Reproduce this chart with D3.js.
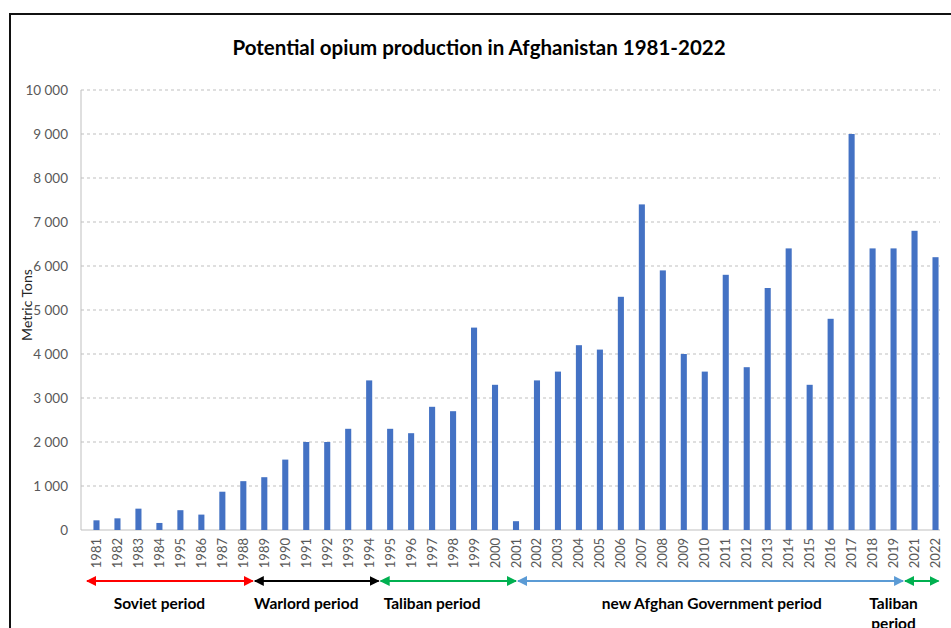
<html>
<head>
    <style>
        body { margin: 0; background: #fff; }
        text { font-family: Lato, "Liberation Sans", sans-serif; }
    </style>
</head>
<body>
    <script src="https://d3js.org/d3.v7.min.js"></script>
    <script>
        var width = 951,
            height = 628;

        // years as printed on the axis (1985 is printed "1995", 2020 is missing)
        var years = ["1981", "1982", "1983", "1984", "1995 ", "1986", "1987", "1988",
            "1989", "1990", "1991", "1992", "1993", "1994", "1995", "1996", "1997",
            "1998", "1999", "2000", "2001", "2002", "2003", "2004", "2005", "2006",
            "2007", "2008", "2009", "2010", "2011", "2012", "2013", "2014", "2015",
            "2016", "2017", "2018", "2019", "2021", "2022"];

        var tons = [220, 265, 485, 160, 450, 350, 870, 1110,
            1200, 1600, 2000, 2000, 2300, 3400, 2300, 2200, 2800,
            2700, 4600, 3300, 200, 3400, 3600, 4200, 4100, 5300,
            7400, 5900, 4000, 3600, 5800, 3700, 5500, 6400, 3300,
            4800, 9000, 6400, 6400, 6800, 6200];

        var yTicks = [0, 1000, 2000, 3000, 4000, 5000, 6000, 7000, 8000, 9000, 10000];

        var periodNames = ["Soviet period", "Warlord period", "Taliban period", "new Afghan Government period", "Taliban"];
        var periodFrom = ["1981", "1989", "1995", "2001", "2021"];
        var periodTo = ["1988", "1994", "2001", "2019", "2022"];
        var periodColors = ["#ff0000", "#000000", "#00b050", "#5b9bd5", "#00b050"];
        var periodLabelAt = ["1984", "1991", "1997", "2010", "2019"];

        var svg = d3.select("body")
            .append("svg")
            .attr("width", width)
            .attr("height", height);

        // frame of the screenshot
        svg.append("path")
            .attr("d", "M10," + height + "V14H" + width)
            .attr("fill", "none")
            .attr("stroke", "#111")
            .attr("stroke-width", 2);

        var x = d3.scaleBand()
            .domain(years)
            .range([86, 946])
            .paddingInner(0.71)
            .paddingOuter(0.355);

        var y = d3.scaleLinear()
            .domain([0, 10000])
            .range([530, 90]);

        var fmt = function (d) { return d3.format(",")(d).replace(/,/g, " "); };

        // grid
        svg.append("g")
            .selectAll("line")
            .data(yTicks.slice(1))
            .enter()
            .append("line")
            .attr("x1", 81)
            .attr("x2", 940)
            .attr("y1", d => y(d))
            .attr("y2", d => y(d))
            .attr("stroke", "#bfbfbf")
            .attr("stroke-dasharray", "3,3");

        // y labels
        svg.append("g")
            .selectAll("text")
            .data(yTicks)
            .enter()
            .append("text")
            .attr("x", 68)
            .attr("y", d => y(d))
            .attr("dy", "0.35em")
            .attr("text-anchor", "end")
            .attr("font-size", 13.5)
            .attr("fill", "#595959")
            .text(fmt);

        svg.append("text")
            .attr("transform", "translate(32,305) rotate(-90)")
            .attr("text-anchor", "middle")
            .attr("font-size", 14)
            .attr("fill", "#262626")
            .text("Metric Tons");

        // axis lines
        svg.append("line")
            .attr("x1", 81).attr("x2", 81)
            .attr("y1", y(10000)).attr("y2", y(0))
            .attr("stroke", "#bfbfbf");
        svg.append("line")
            .attr("x1", 81).attr("x2", 940)
            .attr("y1", y(0)).attr("y2", y(0))
            .attr("stroke", "#bfbfbf");

        // bars
        svg.append("g")
            .selectAll("rect")
            .data(years)
            .enter()
            .append("rect")
            .attr("x", d => x(d))
            .attr("width", x.bandwidth())
            .attr("y", (d, i) => y(tons[i]))
            .attr("height", (d, i) => y(0) - y(tons[i]))
            .attr("fill", "#4472c4");

        // x labels
        svg.append("g")
            .selectAll("text")
            .data(years)
            .enter()
            .append("text")
            .attr("transform", d => "translate(" + (x(d) + x.bandwidth() / 2 + 4.5) + ",538) rotate(-90)")
            .attr("text-anchor", "end")
            .attr("font-size", 13)
            .attr("fill", "#595959")
            .text(d => d.trim());

        // title
        svg.append("text")
            .attr("x", 479)
            .attr("y", 55)
            .attr("text-anchor", "middle")
            .attr("font-size", 20.5)
            .attr("font-weight", "bold")
            .attr("fill", "#000")
            .text("Potential opium production in Afghanistan 1981-2022");

        // periods
        var step = x.step();
        var mid = d => x(d) + x.bandwidth() / 2;
        var defs = svg.append("defs");
        periodColors.forEach(function (c, i) {
            defs.append("marker")
                .attr("id", "ah" + i)
                .attr("viewBox", "0 0 10 10")
                .attr("refX", 9).attr("refY", 5)
                .attr("markerWidth", 5).attr("markerHeight", 5)
                .attr("orient", "auto-start-reverse")
                .append("path")
                .attr("d", "M0,0L10,5L0,10z")
                .attr("fill", c);
        });

        var ay = 581;
        periodNames.forEach(function (name, i) {
            var a = mid(periodFrom[i]) - step / 2 + 1,
                b = mid(periodTo[i]) + step / 2 - 1;
            if (periodFrom[i] == "2001") a = mid("2001") + 2;
            if (periodTo[i] == "2001") b = mid("2001");
            if (periodTo[i] == "2022") b = mid("2022") + 3;
            svg.append("line")
                .attr("x1", a).attr("x2", b)
                .attr("y1", ay).attr("y2", ay)
                .attr("stroke", periodColors[i])
                .attr("stroke-width", 2)
                .attr("marker-start", "url(#ah" + i + ")")
                .attr("marker-end", "url(#ah" + i + ")");
            var t = svg.append("text")
                .attr("x", mid(periodLabelAt[i]) + (name.length > 20 ? 7 : 0))
                .attr("y", 609)
                .attr("text-anchor", "middle")
                .attr("font-size", 15.5)
                .attr("font-weight", "bold")
                .attr("fill", "#000")
                .text(name);
            if (name == "Taliban") {
                t.append("tspan")
                    .attr("x", mid(periodLabelAt[i]))
                    .attr("dy", 20)
                    .text("period");
            }
        });
    </script>
</body>
</html>
